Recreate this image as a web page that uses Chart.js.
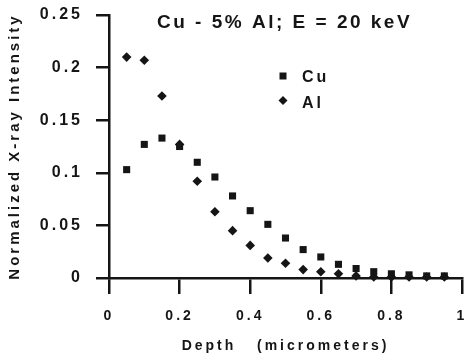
<!DOCTYPE html>
<html>
<head>
<meta charset="utf-8">
<script src="https://cdn.jsdelivr.net/npm/chart.js@4.4.1/dist/chart.umd.min.js"></script>
<style>
  html, body { margin: 0; padding: 0; background: #fff; }
  canvas { display: block; }
</style>
</head>
<body>
<canvas id="chart" width="465" height="355"></canvas>
<script>
// values
const depth = [0.05, 0.1, 0.15, 0.2, 0.25, 0.3, 0.35, 0.4, 0.45, 0.5,
	0.55, 0.6, 0.65, 0.7, 0.75, 0.8, 0.85, 0.9, 0.95];
const cuIntensity = [0.103, 0.127, 0.133, 0.125, 0.110, 0.096, 0.078, 0.064, 0.051, 0.038,
	0.027, 0.020, 0.013, 0.009, 0.006, 0.004, 0.003, 0.002, 0.002];
const alIntensity = [0.210, 0.207, 0.173, 0.127, 0.092, 0.063, 0.045, 0.031, 0.019, 0.014,
	0.008, 0.006, 0.004, 0.002, 0.001, 0.001, 0.001, 0.001, 0.001];

const seriesNames = [ 'Cu', 'Al' ];
const chartTitle = 'Cu - 5% Al; E = 20 keV';
const xTitle = 'Depth   (micrometers)';
const yTitle = 'Normalized X-ray Intensity';

const ink = '#151515';
const family = '"Liberation Sans", Arial, Helvetica, sans-serif';

const toPoints = ( xs, ys ) => xs.map( ( x, i ) => ( { x: x, y: ys[ i ] } ) );
const plainNumber = value => String( +value.toFixed( 2 ) );

// the scanned figure uses a widely spaced bold face
const spacing = {
	id: 'spacing',
	beforeLayout( chart ) { chart.ctx.letterSpacing = '3px'; },
	beforeDraw( chart ) { chart.ctx.letterSpacing = '3px'; },
};

// title and legend sit inside the plot area
const annotations = {
	id: 'annotations',
	afterDraw( chart ) {
		const ctx = chart.ctx;
		ctx.save();
		ctx.fillStyle = ink;
		ctx.textAlign = 'left';
		ctx.textBaseline = 'alphabetic';

		ctx.letterSpacing = '2.5px';
		ctx.font = 'bold 19px ' + family;
		ctx.fillText( chartTitle, 157, 28 );

		ctx.letterSpacing = '3px';
		ctx.font = 'bold 16px ' + family;
		ctx.fillText( seriesNames[ 0 ], 302, 82 );
		ctx.fillText( seriesNames[ 1 ], 302, 108 );

		ctx.beginPath();
		ctx.rect( 279.5, 72.5, 7, 7 );
		ctx.fill();

		ctx.beginPath();
		ctx.moveTo( 283, 96 );
		ctx.lineTo( 287.5, 100.5 );
		ctx.lineTo( 283, 105 );
		ctx.lineTo( 278.5, 100.5 );
		ctx.closePath();
		ctx.fill();
		ctx.restore();
	},
};

new Chart( document.getElementById( 'chart' ).getContext( '2d' ), {
	type: 'scatter',
	data: {
		datasets: [
			{
				label: seriesNames[ 0 ],
				data: toPoints( depth, cuIntensity ),
				pointStyle: 'rect',
				pointRadius: 5,
				backgroundColor: ink,
				borderColor: ink,
				borderWidth: 0,
			},
			{
				label: seriesNames[ 1 ],
				data: toPoints( depth, alIntensity ),
				pointStyle: 'rectRot',
				pointRadius: 4.8,
				backgroundColor: ink,
				borderColor: ink,
				borderWidth: 0,
			},
		],
	},
	options: {
		responsive: false,
		animation: false,
		clip: false,
		layout: {
			autoPadding: false,
			padding: { left: 0, right: 3, top: 15, bottom: 0 },
		},
		plugins: {
			legend: { display: false },
			title: { display: false },
			tooltip: { enabled: false },
		},
		scales: {
			x: {
				type: 'linear',
				min: 0,
				max: 1,
				afterFit( scale ) {
					scale.height = 77;
					scale.paddingLeft = 0;
					scale.paddingRight = 0;
				},
				ticks: {
					stepSize: 0.2,
					color: ink,
					padding: 14,
					maxRotation: 0,
					callback: plainNumber,
					font: { family: family, size: 14, weight: 'bold' },
				},
				grid: {
					drawOnChartArea: false,
					drawTicks: true,
					tickLength: 16,
					color: ink,
					lineWidth: 2.5,
				},
				border: { color: ink, width: 2.5 },
				title: {
					display: true,
					text: xTitle,
					color: ink,
					padding: { top: 5, bottom: 0 },
					font: { family: family, size: 14, weight: 'bold' },
				},
			},
			y: {
				type: 'linear',
				min: 0,
				max: 0.25,
				afterFit( scale ) {
					scale.width = 109;
					scale.paddingTop = 0;
					scale.paddingBottom = 0;
				},
				ticks: {
					stepSize: 0.05,
					color: ink,
					padding: 13,
					callback: plainNumber,
					font: { family: family, size: 16, weight: 'bold' },
				},
				grid: {
					drawOnChartArea: false,
					drawTicks: true,
					tickLength: 13,
					color: ink,
					lineWidth: 2.5,
				},
				border: { color: ink, width: 2.5 },
				title: {
					display: true,
					text: yTitle,
					color: ink,
					padding: { top: 6, bottom: 0 },
					font: { family: family, size: 15, weight: 'bold' },
				},
			},
		},
	},
	plugins: [ spacing, annotations ],
} );
</script>
</body>
</html>
